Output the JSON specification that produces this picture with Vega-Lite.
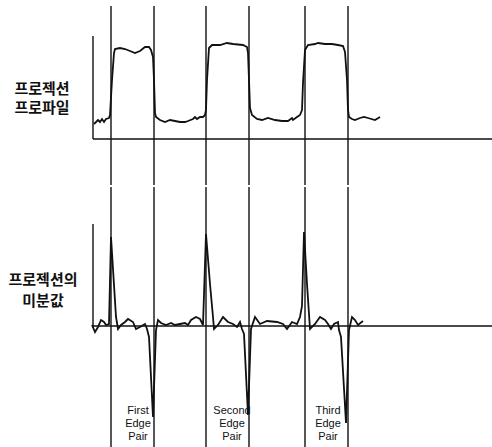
{
  "$schema": "https://vega.github.io/schema/vega-lite/v6.json",
  "padding": 0,
  "spacing": 0,
  "background": "white",
  "config": {
    "view": {"stroke": null},
    "axis": {"disable": true},
    "concat": {"spacing": 0}
  },
  "datasets": {
    "profile": [
      {"x":94,"v":15},{"x":98,"v":19},{"x":100,"v":17},{"x":102,"v":20},{"x":104,"v":17},{"x":106,"v":20},{"x":109,"v":21},{"x":110,"v":24},{"x":112,"v":59},{"x":114,"v":86},{"x":115,"v":90},{"x":120,"v":91},{"x":125,"v":90},{"x":130,"v":88},{"x":135,"v":86},{"x":140,"v":88},{"x":145,"v":92},{"x":149,"v":92},{"x":151,"v":89},{"x":153,"v":82},{"x":154,"v":59},{"x":155,"v":26},{"x":156,"v":22},{"x":160,"v":19},{"x":165,"v":17},{"x":170,"v":19},{"x":175,"v":18},{"x":180,"v":17},{"x":185,"v":17},{"x":188,"v":18},{"x":193,"v":20},{"x":195,"v":22},{"x":197,"v":20},{"x":200,"v":22},{"x":203,"v":22},{"x":205,"v":24},{"x":206,"v":29},{"x":207,"v":59},{"x":209,"v":91},{"x":212,"v":94},{"x":220,"v":94},{"x":227,"v":96},{"x":233,"v":95},{"x":243,"v":94},{"x":247,"v":92},{"x":248,"v":86},{"x":249,"v":59},{"x":250,"v":31},{"x":252,"v":24},{"x":257,"v":20},{"x":262,"v":19},{"x":268,"v":21},{"x":275,"v":19},{"x":282,"v":18},{"x":288,"v":18},{"x":292,"v":21},{"x":293,"v":19},{"x":297,"v":22},{"x":300,"v":24},{"x":302,"v":29},{"x":303,"v":56},{"x":305,"v":89},{"x":308,"v":94},{"x":315,"v":95},{"x":318,"v":96},{"x":325,"v":95},{"x":332,"v":95},{"x":338,"v":94},{"x":343,"v":93},{"x":345,"v":87},{"x":347,"v":59},{"x":348,"v":29},{"x":349,"v":22},{"x":352,"v":20},{"x":355,"v":19},{"x":360,"v":21},{"x":364,"v":22},{"x":368,"v":21},{"x":375,"v":19},{"x":380,"v":22}
    ],
    "deriv": [
      {"x":92,"d":1},{"x":95,"d":-6},{"x":98,"d":-1},{"x":101,"d":6},{"x":104,"d":4},{"x":106,"d":1},{"x":109,"d":2},{"x":111,"d":89},{"x":116,"d":9},{"x":118,"d":-3},{"x":121,"d":1},{"x":125,"d":4},{"x":128,"d":7},{"x":133,"d":4},{"x":136,"d":-3},{"x":140,"d":-1},{"x":145,"d":2},{"x":147,"d":-3},{"x":149,"d":-11},{"x":153,"d":-91},{"x":156,"d":-4},{"x":158,"d":6},{"x":161,"d":3},{"x":166,"d":1},{"x":171,"d":3},{"x":175,"d":1},{"x":180,"d":2},{"x":185,"d":3},{"x":188,"d":1},{"x":191,"d":6},{"x":196,"d":9},{"x":200,"d":7},{"x":203,"d":1},{"x":206,"d":92},{"x":210,"d":42},{"x":213,"d":9},{"x":214,"d":-3},{"x":218,"d":1},{"x":223,"d":9},{"x":228,"d":4},{"x":233,"d":2},{"x":237,"d":-1},{"x":240,"d":4},{"x":242,"d":-3},{"x":244,"d":-8},{"x":248,"d":-89},{"x":251,"d":-3},{"x":255,"d":9},{"x":260,"d":2},{"x":267,"d":5},{"x":277,"d":4},{"x":283,"d":2},{"x":287,"d":-3},{"x":292,"d":4},{"x":297,"d":2},{"x":300,"d":9},{"x":302,"d":20},{"x":304,"d":94},{"x":307,"d":42},{"x":310,"d":-3},{"x":315,"d":2},{"x":320,"d":9},{"x":325,"d":6},{"x":328,"d":2},{"x":331,"d":-3},{"x":334,"d":2},{"x":338,"d":4},{"x":339,"d":-4},{"x":341,"d":-11},{"x":346,"d":-97},{"x":349,"d":-4},{"x":352,"d":9},{"x":355,"d":6},{"x":358,"d":1},{"x":363,"d":5}
    ],
    "edges": [
      {"x":111},{"x":154},{"x":206},{"x":249},{"x":305},{"x":348}
    ],
    "pairs": [
      {"name":"First\nEdge\nPair","x":138},
      {"name":"Second\nEdge\nPair","x":232},
      {"name":"Third\nEdge\nPair","x":328}
    ]
  },
  "vconcat": [
    {
      "width": 492,
      "height": 185,
      "layer": [
        {
          "data": {"name": "edges"},
          "mark": {"type": "rule", "color": "#111", "strokeWidth": 1.4},
          "encoding": {
            "x": {"field": "x", "type": "quantitative", "scale": {"domain": [0, 492], "nice": false, "zero": false}},
            "y": {"datum": 133, "type": "quantitative", "scale": {"domain": [-46, 139], "nice": false, "zero": false}},
            "y2": {"datum": -46}
          }
        },
        {
          "data": {"values": [{}]},
          "mark": {"type": "rule", "color": "#111", "strokeWidth": 1.4},
          "encoding": {
            "x": {"datum": 93, "type": "quantitative"},
            "y": {"datum": 0, "type": "quantitative"},
            "y2": {"datum": 103}
          }
        },
        {
          "data": {"values": [{}]},
          "mark": {"type": "rule", "color": "#111", "strokeWidth": 1.7},
          "encoding": {
            "x": {"datum": 93, "type": "quantitative"},
            "x2": {"datum": 492},
            "y": {"datum": 0, "type": "quantitative"}
          }
        },
        {
          "data": {"name": "profile"},
          "mark": {"type": "line", "color": "#111", "strokeWidth": 1.8},
          "encoding": {
            "x": {"field": "x", "type": "quantitative"},
            "y": {"field": "v", "type": "quantitative"}
          }
        },
        {
          "data": {"values": [{"t": "프로젝션\n프로파일"}]},
          "mark": {"type": "text", "font": "Noto Sans CJK KR", "fontSize": 15, "fontWeight": "bold", "color": "#111", "lineBreak": "\n", "lineHeight": 19, "align": "center", "baseline": "middle"},
          "encoding": {
            "x": {"datum": 42, "type": "quantitative"},
            "y": {"datum": 50, "type": "quantitative"},
            "text": {"field": "t"}
          }
        }
      ]
    },
    {
      "width": 492,
      "height": 262,
      "layer": [
        {
          "data": {"name": "edges"},
          "mark": {"type": "rule", "color": "#111", "strokeWidth": 1.4},
          "encoding": {
            "x": {"field": "x", "type": "quantitative", "scale": {"domain": [0, 492], "nice": false, "zero": false}},
            "y": {"datum": 139, "type": "quantitative", "scale": {"domain": [-123, 139], "nice": false, "zero": false}},
            "y2": {"datum": -123}
          }
        },
        {
          "data": {"values": [{}]},
          "mark": {"type": "rule", "color": "#111", "strokeWidth": 1.4},
          "encoding": {
            "x": {"datum": 93, "type": "quantitative"},
            "y": {"datum": -2, "type": "quantitative"},
            "y2": {"datum": 102}
          }
        },
        {
          "data": {"values": [{}]},
          "mark": {"type": "rule", "color": "#111", "strokeWidth": 1.7},
          "encoding": {
            "x": {"datum": 92, "type": "quantitative"},
            "x2": {"datum": 492},
            "y": {"datum": 0, "type": "quantitative"}
          }
        },
        {
          "data": {"name": "deriv"},
          "mark": {"type": "line", "color": "#111", "strokeWidth": 1.8},
          "encoding": {
            "x": {"field": "x", "type": "quantitative"},
            "y": {"field": "d", "type": "quantitative"}
          }
        },
        {
          "data": {"values": [{"t": "프로젝션의\n미분값"}]},
          "mark": {"type": "text", "font": "Noto Sans CJK KR", "fontSize": 15, "fontWeight": "bold", "color": "#111", "lineBreak": "\n", "lineHeight": 21, "align": "center", "baseline": "middle"},
          "encoding": {
            "x": {"datum": 43, "type": "quantitative"},
            "y": {"datum": 46, "type": "quantitative"},
            "text": {"field": "t"}
          }
        },
        {
          "data": {"name": "pairs"},
          "mark": {"type": "text", "font": "Liberation Sans", "fontSize": 11, "color": "#111", "lineBreak": "\n", "lineHeight": 13, "align": "center", "baseline": "middle"},
          "encoding": {
            "x": {"field": "x", "type": "quantitative"},
            "y": {"datum": -85, "type": "quantitative"},
            "text": {"field": "name"}
          }
        }
      ]
    }
  ]
}
